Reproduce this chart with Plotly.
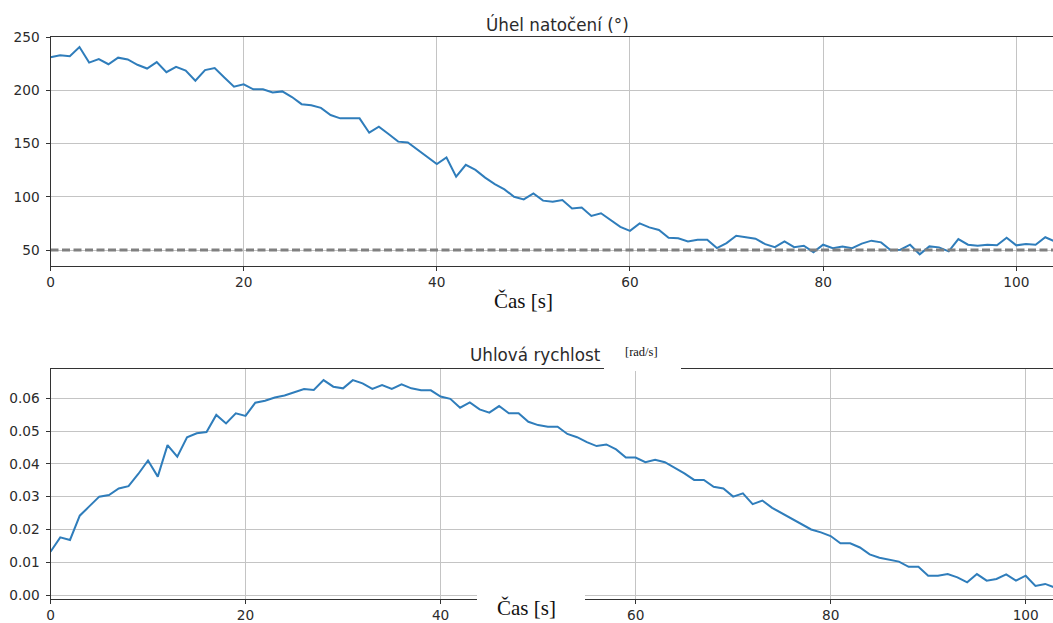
import plotly.graph_objects as go

# ---- data -------------------------------------------------------------
angle_deg = [231, 233, 232, 240.7, 226, 229.4, 224.5, 230.7, 229, 224,
             220.5, 226.5, 217, 222, 218.5, 209, 219, 221, 212, 203.4,
             205.7, 201, 201, 198, 199, 193.7, 187, 186, 183.5, 176.8,
             173.7, 173.7, 173.7, 160.2, 165.9, 159, 151.8, 151, 144, 137,
             130.8, 136.9, 118.9, 130, 125.3, 118, 112, 107, 100, 97.6,
             103.2, 96.4, 95.4, 97, 89, 90, 82, 84.5, 78, 71.8,
             68, 75, 71.3, 68.8, 61.6, 61, 58, 59.6, 59.6, 51.8,
             56.5, 63.4, 62, 60.6, 55.5, 52.7, 58, 52.7, 54, 48,
             55, 51.8, 53.4, 51.8, 56, 58.8, 57.2, 49.7, 50.3, 55,
             46, 53.4, 52.5, 48.8, 60.3, 55, 54, 55, 54.4, 61.6,
             54.4, 55.6, 55, 62, 58]
t_angle = list(range(len(angle_deg)))

target_angle = 50

omega = [0.0132, 0.0176, 0.0168, 0.0242, 0.0271, 0.0300, 0.0305, 0.0325, 0.0332, 0.0369,
         0.0410, 0.0361, 0.0457, 0.0422, 0.0481, 0.0493, 0.0497, 0.0549, 0.0523, 0.0554,
         0.0546, 0.0586, 0.0592, 0.0602, 0.0608, 0.0617, 0.0628, 0.0625, 0.0655, 0.0635,
         0.0630, 0.0655, 0.0645, 0.0628, 0.0640, 0.0628, 0.0642, 0.0630, 0.0624, 0.0624,
         0.0605, 0.0598, 0.0571, 0.0587, 0.0566, 0.0556, 0.0576, 0.0554, 0.0554, 0.0528,
         0.0518, 0.0513, 0.0513, 0.0491, 0.0481, 0.0466, 0.0454, 0.0459, 0.0444, 0.0419,
         0.0419, 0.0405, 0.0412, 0.0405, 0.0389, 0.0371, 0.0351, 0.0351, 0.0330, 0.0325,
         0.0300, 0.0310, 0.0277, 0.0288, 0.0266, 0.0249, 0.0233, 0.0215, 0.0200, 0.0191,
         0.0180, 0.0158, 0.0158, 0.0145, 0.0124, 0.0114, 0.0109, 0.0102, 0.0086, 0.0086,
         0.0059, 0.0059, 0.0064, 0.0054, 0.0039, 0.0064, 0.0044, 0.0049, 0.0063, 0.0044,
         0.0059, 0.0028, 0.0034, 0.0023]
t_omega = list(range(len(omega)))

x_ticks = [0, 20, 40, 60, 80, 100]
angle_ticks = [50, 100, 150, 200, 250]
omega_ticks = [0.00, 0.01, 0.02, 0.03, 0.04, 0.05, 0.06]

title_top = "Úhel natočení (°)"
title_bottom = "Uhlová rychlost"
unit_bottom = "[rad/s]"
x_label = "Čas [s]"

# ---- styling ----------------------------------------------------------
W, H = 1053, 623
LINE_BLUE = "#2f7dbb"
SPINE = "#333333"
GRID = "#c4c4c4"
TICKFONT = dict(family="DejaVu Sans", size=13.7, color="#2b2b2b")
TITLEFONT = dict(family="DejaVu Sans", size=16.8, color="#2b2b2b")
SERIF = "Liberation Serif"


def px_x(p):
    return p / W


def px_y(p):
    return 1 - p / H


fig = go.Figure()

fig.add_trace(go.Scatter(x=t_angle, y=angle_deg, mode="lines",
                         line=dict(color=LINE_BLUE, width=2),
                         xaxis="x", yaxis="y", showlegend=False))
fig.add_trace(go.Scatter(x=[t_angle[0], t_angle[-1]], y=[target_angle, target_angle],
                         mode="lines",
                         line=dict(color="#808080", width=3, dash="8px,3.5px"),
                         xaxis="x", yaxis="y", showlegend=False))
fig.add_trace(go.Scatter(x=t_omega, y=omega, mode="lines",
                         line=dict(color=LINE_BLUE, width=2),
                         xaxis="x2", yaxis="y2", showlegend=False))

common_x = dict(
    tickmode="array", tickvals=x_ticks, ticks="outside", ticklen=4,
    tickcolor=SPINE, tickwidth=1, tickfont=TICKFONT,
    showline=True, linecolor=SPINE, linewidth=1, mirror=True,
    showgrid=True, gridcolor=GRID, gridwidth=1, zeroline=False,
    automargin=False,
)
common_y = dict(
    ticks="outside", ticklen=4, tickcolor=SPINE, tickwidth=1, tickfont=TICKFONT,
    showline=True, linecolor=SPINE, linewidth=1, mirror=False,
    showgrid=True, gridcolor=GRID, gridwidth=1, zeroline=False,
    ticklabelstandoff=3, automargin=False,
)

left = px_x(50.5)

fig.update_layout(
    width=W, height=H,
    margin=dict(l=0, r=0, t=0, b=0, autoexpand=False),
    paper_bgcolor="white", plot_bgcolor="white",
    showlegend=False,
    xaxis=dict(domain=[left, 1.0], range=[0, 103.8], anchor="y", **common_x),
    yaxis=dict(domain=[px_y(266), px_y(37.1)], range=[35, 250], anchor="x",
               tickmode="array", tickvals=angle_ticks, **common_y),
    xaxis2=dict(domain=[left, 1.0], range=[0, 102.8], anchor="y2", **common_x),
    yaxis2=dict(domain=[px_y(598.7), px_y(369.3)], range=[-0.0011, 0.0688], anchor="x2",
                tickmode="array", tickvals=omega_ticks, tickformat=".2f", **common_y),
)

# white patches behind the relabelled texts of the lower panel
fig.add_shape(type="rect", xref="paper", yref="paper", layer="above",
              x0=px_x(604), x1=px_x(681), y0=px_y(371), y1=px_y(340),
              fillcolor="white", line=dict(width=0))
fig.add_shape(type="rect", xref="paper", yref="paper", layer="above",
              x0=px_x(477), x1=px_x(585), y0=px_y(623), y1=px_y(593),
              fillcolor="white", line=dict(width=0))

annotations = [
    dict(text=title_top, x=px_x(557), y=px_y(24), font=TITLEFONT),
    dict(text=x_label, x=px_x(523), y=px_y(301),
         font=dict(family=SERIF, size=21, color="#111111")),
    dict(text=title_bottom, x=px_x(535.5), y=px_y(355), font=TITLEFONT),
    dict(text=unit_bottom, x=px_x(641.5), y=px_y(352),
         font=dict(family=SERIF, size=12.5, color="#111111")),
    dict(text=x_label, x=px_x(526), y=px_y(608),
         font=dict(family=SERIF, size=21, color="#111111")),
]
for a in annotations:
    fig.add_annotation(xref="paper", yref="paper", showarrow=False,
                       xanchor="center", yanchor="middle", **a)

fig.write_html("out.html")
